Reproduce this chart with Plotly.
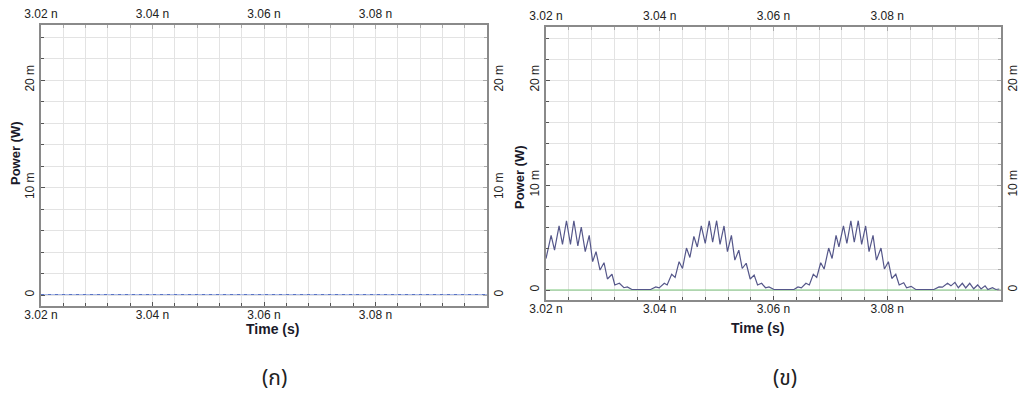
import plotly.graph_objects as go

# ---------------- data ----------------
# time in ns, power in mW
t_a = [3.020, 3.100]
p_a = [0.05, 0.05]

t_b = [3.0200, 3.0209, 3.0215, 3.0223, 3.0229, 3.0236, 3.0243, 3.0249, 3.0256, 3.0262,
       3.0269, 3.0276, 3.0282, 3.0288, 3.0295, 3.0302, 3.0308, 3.0316, 3.0321, 3.0329,
       3.0337, 3.0343, 3.0351, 3.0384, 3.0393, 3.0399, 3.0408, 3.0413, 3.0421, 3.0427,
       3.0434, 3.0440, 3.0447, 3.0453, 3.0460, 3.0466, 3.0473, 3.0480, 3.0487, 3.0493,
       3.0500, 3.0506, 3.0513, 3.0519, 3.0526, 3.0532, 3.0539, 3.0545, 3.0552, 3.0559,
       3.0566, 3.0572, 3.0579, 3.0586, 3.0592, 3.0601, 3.0636, 3.0643, 3.0649, 3.0657,
       3.0663, 3.0670, 3.0676, 3.0683, 3.0689, 3.0697, 3.0703, 3.0710, 3.0715, 3.0723,
       3.0729, 3.0736, 3.0742, 3.0749, 3.0755, 3.0762, 3.0768, 3.0775, 3.0781, 3.0789,
       3.0795, 3.0802, 3.0808, 3.0815, 3.0821, 3.0829, 3.0834, 3.0842, 3.0850, 3.0882,
       3.0891, 3.0897, 3.0906, 3.0912, 3.0919, 3.0925, 3.0932, 3.0938, 3.0945, 3.0952,
       3.0959, 3.0965, 3.0972, 3.0977, 3.0985, 3.0991, 3.0997]
p_b = [3.0, 5.2, 3.8, 6.1, 4.35, 6.6, 4.35, 6.6, 4.2, 6.0,
       3.65, 5.2, 2.7, 3.65, 1.9, 2.6, 1.05, 1.5, 0.48, 0.64,
       0.22, 0.3, 0.05, 0.05, 0.3, 0.2, 0.64, 0.48, 1.5, 1.2,
       2.7, 2.05, 4.0, 3.1, 5.1, 4.1, 6.1, 4.45, 6.6, 4.55,
       6.6, 4.35, 6.1, 3.65, 5.2, 2.85, 3.8, 2.05, 2.55, 1.05,
       1.43, 0.48, 0.64, 0.22, 0.3, 0.05, 0.05, 0.3, 0.2, 0.64,
       0.48, 1.5, 1.2, 2.6, 2.0, 4.0, 3.0, 5.2, 4.1, 6.1,
       4.45, 6.6, 4.55, 6.6, 4.35, 6.1, 3.65, 5.2, 2.85, 4.0,
       2.0, 2.7, 1.1, 1.5, 0.48, 0.7, 0.22, 0.35, 0.05, 0.05,
       0.3, 0.27, 0.64, 0.4, 0.73, 0.22, 0.64, 0.2, 0.64, 0.12,
       0.48, 0.1, 0.4, 0.05, 0.22, 0.05, 0.1]
t_ref = [3.020, 3.100]
p_ref = [0.0, 0.0]

x_tickvals = [3.02, 3.04, 3.06, 3.08]
x_ticktext = ["3.02 n", "3.04 n", "3.06 n", "3.08 n"]
y_tickvals = [0, 10, 20]
y_ticktext = ["0", "10 m", "20 m"]
panel_labels = ["(ก)", "(ข)"]

# ---------------- layout ----------------
W, H = 1019, 394
def fx(px):
    return px / W
def fy(py):
    return 1 - py / H

panels = [
    dict(xd=[fx(41), fx(487)], yd=[fy(306), fy(25)], yr=[-1.02, 25.12]),
    dict(xd=[fx(546), fx(1001)], yd=[fy(300), fy(27)], yr=[-0.95, 25.05]),
]

tick_font = dict(family="Liberation Sans, Arial, sans-serif", size=12, color="#222")
grid_col = "#e3e3e3"
axis_col = "#8a8a8a"

fig = go.Figure()

fig.add_trace(go.Scatter(x=t_a, y=p_a, mode="lines", line=dict(color="#a8b8e8", width=1.2),
                         xaxis="x", yaxis="y", showlegend=False, hoverinfo="skip"))
fig.add_trace(go.Scatter(x=t_a, y=p_a, mode="lines", line=dict(color="#5a74c4", width=1.2, dash="3px,4px"),
                         xaxis="x", yaxis="y", showlegend=False, hoverinfo="skip"))
fig.add_trace(go.Scatter(x=t_ref, y=p_ref, mode="lines", line=dict(color="#7cc87c", width=1.2),
                         xaxis="x2", yaxis="y2", showlegend=False, hoverinfo="skip"))
fig.add_trace(go.Scatter(x=t_b, y=p_b, mode="lines", line=dict(color="#55578a", width=1.2),
                         xaxis="x2", yaxis="y2", showlegend=False, hoverinfo="skip"))
for xa, ya in (("x3", "y3"), ("x4", "y4")):
    fig.add_trace(go.Scatter(x=[3.05], y=[10], mode="markers", marker=dict(opacity=0),
                             xaxis=xa, yaxis=ya, showlegend=False, hoverinfo="skip"))

layout = dict(width=W, height=H, margin=dict(l=0, r=0, t=0, b=0, autoexpand=False),
              paper_bgcolor="white", plot_bgcolor="white", showlegend=False)

for i, p in enumerate(panels):
    xi, yi = str(i + 1), str(i + 1)
    xo, yo = str(i + 3), str(i + 3)
    common_x = dict(range=[3.02, 3.10], domain=p["xd"], tickmode="array",
                    tickvals=x_tickvals, ticktext=x_ticktext, tickfont=tick_font,
                    showline=True, linecolor=axis_col, linewidth=1.5, zeroline=False,
                    ticks="inside", ticklen=4, tickcolor="#555", fixedrange=True,
                    automargin=False)
    common_y = dict(range=p["yr"], domain=p["yd"], tickmode="array",
                    tickvals=y_tickvals, ticktext=y_ticktext, tickfont=tick_font,
                    tickangle=-90, showline=True, linecolor=axis_col, linewidth=1.5,
                    zeroline=False, ticks="inside", ticklen=4, tickcolor="#555",
                    fixedrange=True, automargin=False)
    layout["xaxis" + ("" if i == 0 else xi)] = dict(
        common_x, side="bottom", anchor="y" + yi, showgrid=True, gridcolor=grid_col,
        ticklabelstandoff=-3,
        minor=dict(tickmode="linear", tick0=3.02, dtick=0.004, showgrid=True,
                   gridcolor=grid_col, ticks="inside", ticklen=3, tickcolor="#555"))
    layout["yaxis" + ("" if i == 0 else yi)] = dict(
        common_y, side="left", anchor="x" + xi, showgrid=True, gridcolor=grid_col,
        minor=dict(tickmode="linear", tick0=0, dtick=2, showgrid=True,
                   gridcolor=grid_col, ticks="inside", ticklen=3, tickcolor="#555"))
    layout["xaxis" + xo] = dict(
        common_x, side="top", anchor="y" + yo, overlaying="x" + ("" if i == 0 else xi),
        showgrid=False, tickcolor="#aaa",
        minor=dict(tickmode="linear", tick0=3.02, dtick=0.004, ticks="inside",
                   ticklen=3, tickcolor="#aaa"))
    layout["yaxis" + yo] = dict(
        common_y, side="right", anchor="x" + xo, overlaying="y" + ("" if i == 0 else yi),
        showgrid=False, tickcolor="#aaa",
        minor=dict(tickmode="linear", tick0=0, dtick=2, ticks="inside",
                   ticklen=3, tickcolor="#aaa"))

fig.update_layout(**layout)

title_font = dict(family="Liberation Sans, Arial, sans-serif", size=13, color="#1a1a2a")
annots = []
for cx, cy in ((15, 153), (519, 177)):
    annots.append(dict(x=fx(cx), y=fy(cy), xref="paper", yref="paper", text="<b>Power (W)</b>",
                       textangle=-90, showarrow=False, font=title_font, xanchor="center", yanchor="middle"))
for cx, cy in ((272, 329), (757, 328)):
    annots.append(dict(x=fx(cx), y=fy(cy), xref="paper", yref="paper", text="<b>Time (s)</b>",
                       showarrow=False, font=dict(title_font, size=14), xanchor="center", yanchor="middle"))
for lab, cx in zip(panel_labels, (274, 785)):
    annots.append(dict(x=fx(cx), y=fy(378), xref="paper", yref="paper", text=lab,
                       showarrow=False, font=dict(family="Noto Sans Thai, Leelawadee UI, Tahoma, sans-serif",
                                                  size=21, color="#222"),
                       xanchor="center", yanchor="middle"))
fig.update_layout(annotations=annots)

fig.write_html("out.html", config={"displayModeBar": False},
               post_script="document.body.style.margin='0';document.body.style.overflow='hidden';")
